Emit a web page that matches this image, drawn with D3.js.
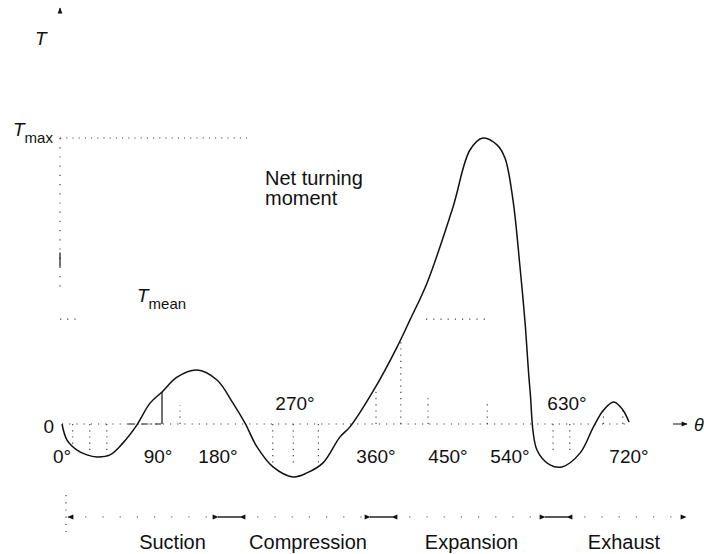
<!DOCTYPE html>
<html>
<head>
<meta charset="utf-8">
<script src="https://cdn.jsdelivr.net/npm/d3@7"></script>
<style>
  body { margin: 0; background: #fff; }
  svg { display: block; font-family: "Liberation Sans", Arial, sans-serif; }
</style>
</head>
<body>
<svg width="704" height="554"></svg>
<script>

// DATA ––––––––––––––––––––––––––––––––––––––––––––––––––––––––––––––––

// crank angle (deg) and net turning moment (% of T max)
var crankAngle = [0, 4.7, 14.1, 23.4, 32.8, 45, 57.2, 70.3, 82.5, 96,
  118.5, 148.5, 178.5, 197.5, 211.6, 225.6, 244.3, 267.7, 283.3, 301.1,
  320, 331.1, 358.9, 386.3, 402.5, 423.8, 457.3, 481.9, 500.8, 521.1,
  532.7, 544.7, 555.8, 563.7, 571.6, 582.6, 603.2, 622.1, 649.2, 668.4,
  683.1, 697.9, 711.1, 720];
var torque = [0, -5.6, -9.1, -10.8, -11.5, -10.8, -6.6, -0.3, 7.3, 11.2,
  16.4, 18.9, 15.4, 7.3, 0.3, -8.0, -15.0, -18.5, -17.1, -13.6,
  -4.5, -1.0, 12.6, 26.9, 36.4, 49.3, 75.9, 95.8, 100, 97.6,
  93.0, 78.3, 54.9, 35.7, 11.9, -9.1, -14.3, -15.0, -10.1, -1.0,
  4.9, 7.7, 4.9, 0.7];

var tickAngles = [0, 90, 180, 270, 360, 450, 540, 630, 720];
var raisedTicks = [270, 630];   // labels sitting above the axis (curve dips below)

var tMax = 100, tMean = 36.7;

// dotted hatching under the curve (angle, height reached)
var hatchAngle = [10, 26, 42, 123, 244, 268, 296, 360, 391, 425, 507, 608, 634, 683, 711];
var hatchTop = [-7.5, -9.5, -10.5, 6.6, -13.5, -13.5, -13.5, 12.6, 29, 9, 7.3, -10.5, -10.5, 4.9, 4.9];

var phaseNames = ["Suction", "Compression", "Expansion", "Exhaust"];
var phaseStart = [0, 180, 360, 540];
var phaseEnd = [180, 360, 540, 720];


// D3 ––––––––––––––––––––––––––––––––––––––––––––––––––––––––––––––––––

var draw = function() {

  var svg = d3.select("svg");

  // the figure's angle axis is drawn by hand, so the scale follows its tick labels
  var x = d3.scaleLinear()
    .domain(tickAngles)
    .range([62, 158, 218, 295, 376, 448, 510, 567, 629]);

  var y = d3.scaleLinear()
    .domain([0, 100])
    .range([424, 138]);

  // the stroke bar under the plot is spaced by hand too
  var phaseX = d3.scaleLinear()
    .domain([0, 180, 360, 540, 720])
    .range([68, 229, 381, 556, 686]);

  var ink = "#111", dots = "#444";

  svg.append("defs").append("marker")
      .attr("id", "head")
      .attr("viewBox", "0 0 10 10")
      .attr("refX", 9).attr("refY", 5)
      .attr("markerWidth", 8).attr("markerHeight", 6)
      .attr("markerUnits", "userSpaceOnUse")
      .attr("orient", "auto-start-reverse")
    .append("path")
      .attr("d", "M0,1L10,5L0,9Z")
      .attr("fill", ink);

  // axes
  var axisX = x(0) - 2;
  svg.append("line")
      .attr("x1", axisX).attr("x2", axisX)
      .attr("y1", 22).attr("y2", 8)
      .attr("stroke", ink).attr("stroke-width", 1)
      .attr("stroke-dasharray", "0,10,4")
      .attr("marker-end", "url(#head)");

  svg.append("line")
      .attr("x1", axisX).attr("x2", axisX)
      .attr("y1", y(tMax)).attr("y2", y(tMean) - 30)
      .attr("stroke", dots).attr("stroke-width", 1.2)
      .attr("stroke-dasharray", "1.2,8");

  svg.append("line")
      .attr("x1", axisX).attr("x2", axisX)
      .attr("y1", y(60)).attr("y2", y(55))
      .attr("stroke", ink).attr("stroke-width", 1.2);

  svg.append("line")
      .attr("x1", x(0)).attr("x2", x(720))
      .attr("y1", y(0)).attr("y2", y(0))
      .attr("stroke", dots).attr("stroke-width", 1.2)
      .attr("stroke-dasharray", "1.2,6");

  svg.append("line")
      .attr("x1", x(720) + 44).attr("x2", x(720) + 58)
      .attr("y1", y(0)).attr("y2", y(0))
      .attr("stroke", ink).attr("stroke-width", 1)
      .attr("marker-end", "url(#head)");

  // T max and T mean guides
  svg.append("line")
      .attr("x1", axisX).attr("x2", x(217))
      .attr("y1", y(tMax)).attr("y2", y(tMax))
      .attr("stroke", dots).attr("stroke-width", 1.2)
      .attr("stroke-dasharray", "1.2,5");

  [[0, 16], [425, 507]].forEach(function(s) {
    svg.append("line")
        .attr("x1", x(s[0]) - 2).attr("x2", x(s[1]))
        .attr("y1", y(tMean)).attr("y2", y(tMean))
        .attr("stroke", dots).attr("stroke-width", 1.2)
        .attr("stroke-dasharray", "1.2,6");
  });

  // hatching
  svg.selectAll(".hatch")
      .data(hatchAngle)
    .enter().append("line")
      .attr("class", "hatch")
      .attr("x1", function(d) { return x(d); })
      .attr("x2", function(d) { return x(d); })
      .attr("y1", y(0))
      .attr("y2", function(d, i) { return y(hatchTop[i]); })
      .attr("stroke", dots).attr("stroke-width", 1.2)
      .attr("stroke-dasharray", "1.2,5");

  // the solid ordinate in the suction stroke
  svg.append("line")
      .attr("x1", x(96)).attr("x2", x(96))
      .attr("y1", y(0)).attr("y2", y(11.2))
      .attr("stroke", ink).attr("stroke-width", 1.2);
  svg.append("line")
      .attr("x1", x(62)).attr("x2", x(98))
      .attr("y1", y(0)).attr("y2", y(0))
      .attr("stroke", ink).attr("stroke-width", 1.2)
      .attr("stroke-dasharray", "6,3,1.5,3");

  // curve
  var line = d3.line()
    .x(function(i) { return x(crankAngle[i]); })
    .y(function(i) { return y(torque[i]); })
    .curve(d3.curveCatmullRom.alpha(0.5));

  svg.append("path")
      .datum(d3.range(crankAngle.length))
      .attr("fill", "none")
      .attr("stroke", ink)
      .attr("stroke-width", 1.5)
      .attr("stroke-linejoin", "round")
      .attr("d", line);

  // angle labels
  svg.selectAll(".tick")
      .data(tickAngles)
    .enter().append("text")
      .attr("class", "tick")
      .attr("x", function(d) { return x(d); })
      .attr("y", function(d) { return raisedTicks.indexOf(d) >= 0 ? 410 : 463; })
      .attr("text-anchor", "middle")
      .attr("font-size", 19)
      .attr("fill", ink)
      .text(function(d) { return d + "\u00b0"; });

  svg.append("text")
      .attr("x", x(0) - 8).attr("y", 433)
      .attr("text-anchor", "end")
      .attr("font-size", 19).attr("fill", ink)
      .text("0");

  // strokes
  var py = 517;
  phaseNames.forEach(function(name, i) {
    svg.append("line")
        .attr("x1", phaseX(phaseStart[i]) + (i > 0 ? 11 : 0))
        .attr("x2", phaseX(phaseEnd[i]) - (i < 3 ? 11 : 0))
        .attr("y1", py).attr("y2", py)
        .attr("stroke", dots).attr("stroke-width", 1.2)
        .attr("stroke-dasharray", "1.2,16")
        .attr("marker-start", "url(#head)")
        .attr("marker-end", "url(#head)");

    if (i > 0) {
      svg.append("line")
          .attr("x1", phaseX(phaseStart[i]) - 11).attr("x2", phaseX(phaseStart[i]) + 11)
          .attr("y1", py).attr("y2", py)
          .attr("stroke", ink).attr("stroke-width", 1.4);
    }

    svg.append("text")
        .attr("x", (phaseX(phaseStart[i]) + phaseX(phaseEnd[i])) / 2 + (i ? 3 : 24))
        .attr("y", 549)
        .attr("text-anchor", "middle")
        .attr("font-size", 20).attr("fill", ink)
        .text(name);
  });

  svg.append("line")
      .attr("x1", phaseX(0) - 2).attr("x2", phaseX(0) - 2)
      .attr("y1", 495).attr("y2", 532)
      .attr("stroke", dots).attr("stroke-width", 1.2)
      .attr("stroke-dasharray", "1.2,6");

  // text annotations
  var tLabel = function(tx, ty, sub) {
    var t = svg.append("text")
        .attr("x", tx).attr("y", ty)
        .attr("font-size", 19).attr("fill", ink);
    t.append("tspan").attr("font-style", "italic").text("T");
    if (sub) {
      t.append("tspan").attr("dy", 7).attr("font-size", 15).text(sub);
    }
  };
  tLabel(35, 45);
  tLabel(13, 136, "max");
  tLabel(137, 302, "mean");

  svg.append("text")
      .attr("x", x(720) + 65).attr("y", y(0) + 7)
      .attr("font-size", 18).attr("font-style", "italic").attr("fill", ink)
      .text("\u03b8");

  svg.append("text")
      .attr("x", 265).attr("y", 185)
      .attr("font-size", 20).attr("fill", ink)
      .selectAll("tspan")
      .data(["Net turning", "moment"])
    .enter().append("tspan")
      .attr("x", 265)
      .attr("dy", function(d, i) { return i ? 20 : 0; })
      .text(function(d) { return d; });
};

draw();
</script>
</body>
</html>
